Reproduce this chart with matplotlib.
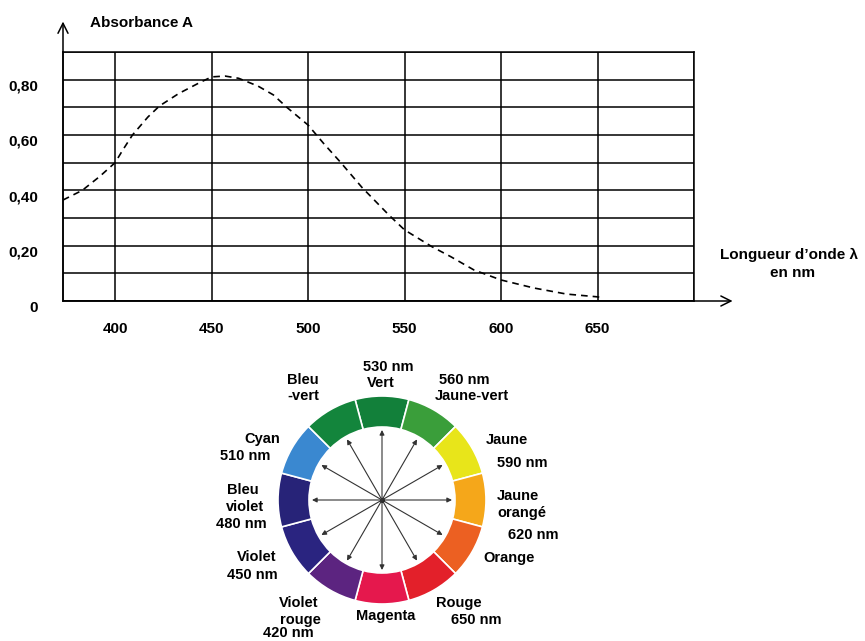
import matplotlib
matplotlib.use("Agg")
import matplotlib.pyplot as plt
from matplotlib.patches import Wedge
import numpy as np

plt.rcParams['font.family'] = ['Liberation Sans', 'DejaVu Sans']
plt.rcParams['font.weight'] = 'bold'

# absorption spectrum
longueur = [373, 383, 392, 400, 404, 409, 417, 423, 433, 444, 450, 457, 464,
            474, 482, 489, 500, 508, 517, 528, 542, 550, 564, 574, 586, 600,
            617, 634, 650, 653]
absorbance = [0.365, 0.40, 0.45, 0.50, 0.546, 0.60, 0.665, 0.705, 0.75, 0.79,
              0.81, 0.813, 0.805, 0.777, 0.745, 0.70, 0.636, 0.57, 0.50, 0.41,
              0.31, 0.257, 0.197, 0.16, 0.112, 0.076, 0.047, 0.025, 0.015, 0.01]

xticks = [400, 450, 500, 550, 600, 650]
yticks = [0, 0.2, 0.4, 0.6, 0.8]
ytick_labels = ["0", "0,20", "0,40", "0,60", "0,80"]

# colour wheel, clockwise from the top
couleurs = ["Vert", "Jaune-vert", "Jaune", "Jaune orangé", "Orange", "Rouge",
            "Magenta", "Violet rouge", "Violet", "Bleu violet", "Cyan", "Bleu-vert"]
teintes = ["#12803a", "#3a9e3a", "#e8e51a", "#f5a71a", "#ec6022", "#e3202a",
           "#e5184d", "#5c2480", "#2a2480", "#272378", "#3a88d0", "#13853c"]

# label lines around the wheel (text, x px, y px from top)
etiquettes = [("530 nm", 388, 367), ("Vert", 381, 383),
              ("560 nm", 464, 380), ("Jaune-vert", 472, 396),
              ("Jaune", 507, 440), ("590 nm", 522, 463),
              ("Jaune", 518, 496), ("orangé", 522, 513), ("620 nm", 533, 535),
              ("Orange", 509, 558),
              ("Rouge", 459, 603), ("650 nm", 476, 620),
              ("Magenta", 386, 616),
              ("Violet", 299, 603), ("rouge", 300, 620), ("420 nm", 288, 633),
              ("Violet", 257, 557), ("450 nm", 252, 575),
              ("Bleu", 243, 490), ("violet", 245, 507), ("480 nm", 241, 524),
              ("Cyan", 262, 439), ("510 nm", 245, 456),
              ("Bleu", 303, 380), ("-vert", 303, 396)]

W, H = 865, 641
fig = plt.figure(figsize=(W / 100, H / 100), dpi=100)

# ---------------- spectrum ----------------
ax = fig.add_axes([63 / W, 1 - 301 / H, (694 - 63) / W, (301 - 52) / H])
ax.set_xlim(373, 700)
ax.set_ylim(0, 0.9)
ax.plot(longueur, absorbance, ls=(0, (4, 3)), color="black", lw=1.2, zorder=3)

ax.set_xticks(xticks)
ax.set_xticks([700], minor=True)
ax.set_yticks(yticks)
ax.set_yticklabels(ytick_labels)
ax.set_yticks([0.1, 0.3, 0.5, 0.7, 0.9], minor=True)
ax.grid(True, which="both", color="black", lw=1.1)
ax.tick_params(which="both", length=0)
ax.tick_params(axis="x", pad=15, labelsize=11)
ax.tick_params(axis="y", pad=18, labelsize=11)
for lab in ax.get_yticklabels():
    lab.set_va("top")
for s in ax.spines.values():
    s.set_linewidth(1.1)

ax.annotate("", xy=(373, 1.01), xytext=(373, 0), annotation_clip=False,
            arrowprops=dict(arrowstyle="->", color="black", lw=1.1,
                            mutation_scale=18, shrinkA=0, shrinkB=0))
ax.annotate("", xy=(720, 0), xytext=(373, 0), annotation_clip=False,
            arrowprops=dict(arrowstyle="->", color="black", lw=1.1,
                            mutation_scale=18, shrinkA=0, shrinkB=0))

fig.text(90 / W, 1 - 23 / H, "Absorbance A", fontsize=11, va="center", ha="left")
fig.text(720 / W, 1 - 255 / H, "Longueur d’onde λ", fontsize=11, va="center", ha="left")
fig.text(793 / W, 1 - 273 / H, "en nm", fontsize=11, va="center", ha="center")

# ---------------- colour wheel ----------------
ax2 = fig.add_axes([0, 0, 1, 1])
ax2.set_xlim(0, W)
ax2.set_ylim(0, H)
ax2.set_axis_off()
ax2.patch.set_visible(False)

cx, cy = 382, H - 500
r_ext, epaisseur = 104, 31
for i, (nom, c) in enumerate(zip(couleurs, teintes)):
    a = 90 - 30 * i
    ax2.add_patch(Wedge((cx, cy), r_ext, a - 15, a + 15, width=epaisseur,
                        facecolor=c, edgecolor="white", lw=1.2))
    ar = np.deg2rad(a)
    ax2.annotate("", xy=(cx + 70 * np.cos(ar), cy + 70 * np.sin(ar)), xytext=(cx, cy),
                 arrowprops=dict(arrowstyle="-|>", color="#333333", lw=0.8,
                                 mutation_scale=7, shrinkA=0, shrinkB=0))
ax2.plot([cx], [cy], marker="o", ms=2.5, color="black")

for txt, x, y in etiquettes:
    ax2.text(x, H - y, txt, fontsize=10.5, ha="center", va="center")

fig.savefig("out.png", dpi=100, facecolor="white")
